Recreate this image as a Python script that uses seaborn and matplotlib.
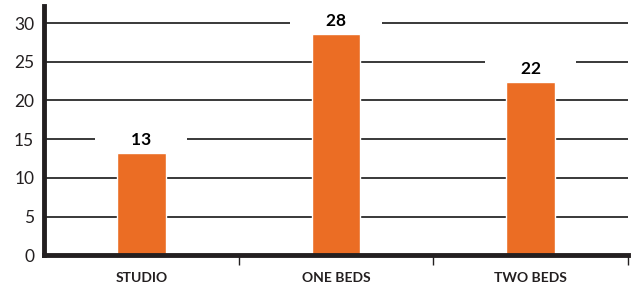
import pandas as pd
import matplotlib.pyplot as plt
import seaborn as sns

# Data
categories = ["STUDIO", "ONE BEDS", "TWO BEDS"]
heights = [13.2, 28.6, 22.4]
labels = ["13", "28", "22"]

df = pd.DataFrame({"unit": categories, "count": heights})

sns.set_theme(style="white")
plt.rcParams['font.family'] = ['Lato', 'DejaVu Sans']

dark = "#231f20"
orange = "#eb6d24"

fig = plt.figure(figsize=(6.37, 2.85), dpi=100)
ax = fig.add_axes([0.069, 0.104, 0.917, 0.875])

ax.set_axisbelow(True)
sns.barplot(x="unit", y="count", data=df, color=orange, width=0.25,
            saturation=1, ax=ax, zorder=2)

ax.set_ylim(0, 32.2)
ax.set_xlim(-0.5, 2.5)
ax.set_yticks(range(0, 31, 5))
ax.yaxis.grid(True, color="#2a2a2a", linewidth=1.3)
ax.xaxis.grid(False)

# value labels with white boxes that cut the gridlines
for i, (h, lab) in enumerate(zip(heights, labels)):
    ax.annotate(" " * 8 + lab + " " * 8, (i, h), xytext=(0, 9.5),
                textcoords="offset points", ha="center", va="center",
                fontsize=12.5, fontweight="bold", color="black",
                bbox=dict(boxstyle="square,pad=0.1", fc="white", ec="none"),
                zorder=3)

for side in ["top", "right"]:
    ax.spines[side].set_visible(False)
for side in ["left", "bottom"]:
    ax.spines[side].set_color(dark)
    ax.spines[side].set_linewidth(3.5)
    ax.spines[side].set_capstyle("projecting")

ax.set_xlabel("")
ax.set_ylabel("")
ax.tick_params(axis="y", length=0, pad=7, labelsize=12.5, labelcolor=dark)
ax.tick_params(axis="x", which="major", length=0, pad=12, labelsize=10,
               labelcolor=dark)
for t in ax.get_xticklabels():
    t.set_fontweight("bold")
ax.set_xticks([0.5, 1.5, 2.5], minor=True)
ax.tick_params(axis="x", which="minor", direction="out", length=7, width=1,
               color=dark, bottom=True)

plt.savefig("out.png", dpi=100)
plt.close()
